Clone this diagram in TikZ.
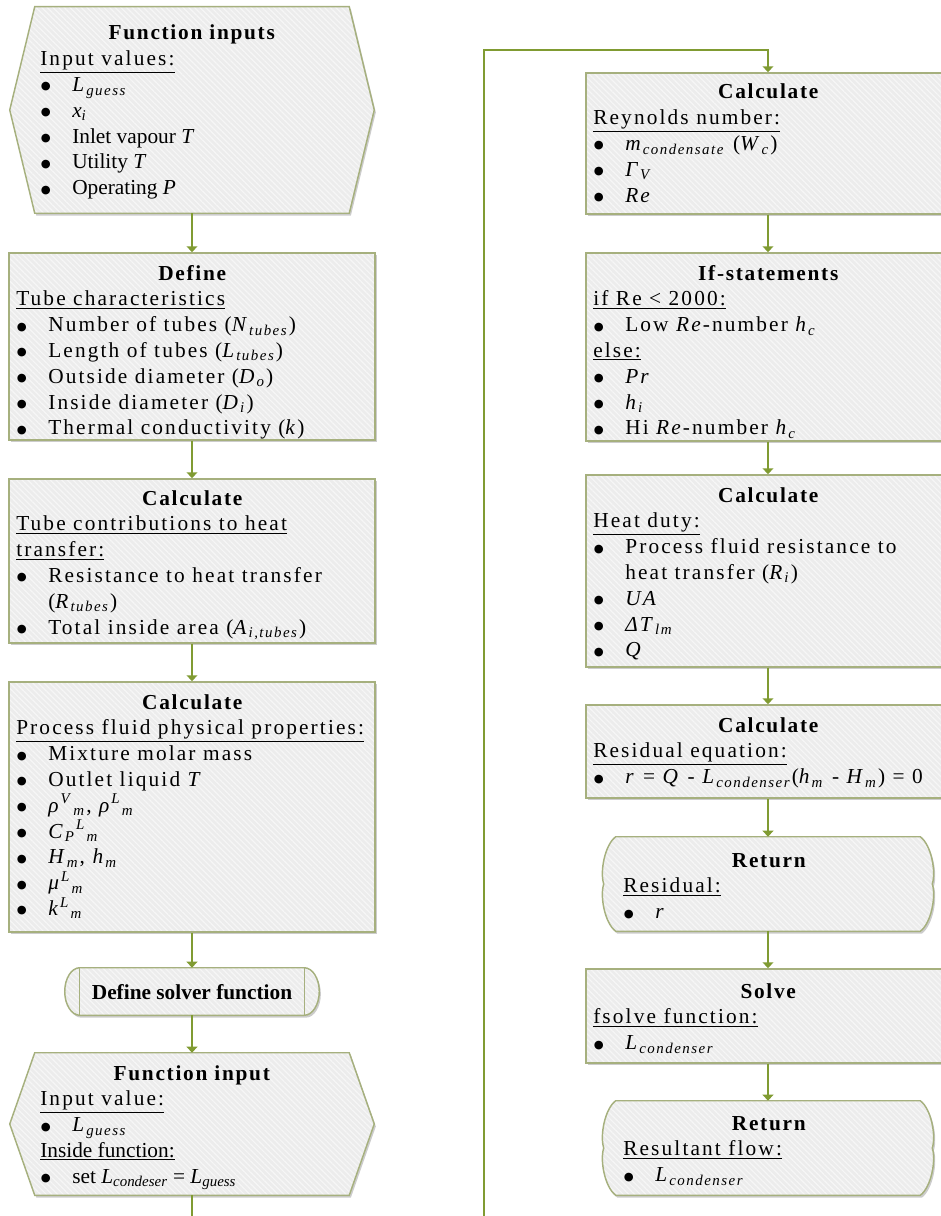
\documentclass[tikz,border=0pt]{standalone}
\usepackage{fontspec}
\setmainfont{Liberation Serif}
\newfontfamily\spfont[LetterSpace=10]{Liberation Serif}
\newfontfamily\tfont[LetterSpace=8]{Liberation Serif}
\newfontfamily\bulfont{DejaVu Sans}
\usetikzlibrary{arrows.meta,calc,fit,shadows,patterns.meta}

\definecolor{boxgray}{RGB}{236,236,236}
\definecolor{stripe}{RGB}{246,246,246}
\definecolor{edge}{RGB}{166,176,126}
\definecolor{flowcol}{RGB}{128,155,50}

\newdimen\px \px=0.75pt
% italic symbol with italic subscript
\newcommand\vr[2]{\textit{#1}\textsubscript{\textit{#2}}}
\newcommand\upx[1]{\textsuperscript{\textit{#1}}}
\newcommand\dnx[1]{\textsubscript{\textit{#1}}}
% bullet line and its hanging continuation
\newcommand\bulletmark{{\bulfont\fontsize{8.5}{8.5}\selectfont\raisebox{1.2pt}{●}}}
\newcommand\bl[1]{\par\noindent\makebox[32\px][l]{\hspace*{0.5\px}\bulletmark}\mbox{#1}\par}
\newcommand\cont[1]{\par\noindent\hspace*{32\px}\mbox{#1}\par}
\newcommand\ttl[1]{{\centering\tfont\bfseries #1\par}}

\begin{document}
\begin{tikzpicture}[x=0.75pt,y=-0.75pt,
  boxstyle/.style={drop shadow={shadow xshift=1.2pt,shadow yshift=-1.8pt,fill=black,opacity=0.2},
    preaction={fill=boxgray},
    pattern={Lines[angle=-45,distance=3pt,line width=0.9pt]}, pattern color=stripe,
    draw=edge, line width=1.1pt},
  rectbox/.style={boxstyle, rectangle, inner sep=0pt},
  frame/.style={rectangle, inner sep=0pt},
  edgeline/.style={draw=edge, line width=1.1pt},
  flow/.style={draw=flowcol, line width=1.5pt, -{Triangle[width=8pt,length=4.5pt]}},
  txt/.style={inner sep=0pt, anchor=base west, font=\fontsize{16}{19.35}\selectfont},
]
\useasboundingbox (0,0) rectangle (940,1216);

% ---------- left column ----------
\node[frame, fit={(10,7) (374,213)}] (b1) {};
\path[boxstyle] (b1.west) -- ($(b1.north west)+(25,0)$) -- ($(b1.north east)+(-25,0)$)
  -- (b1.east) -- ($(b1.south east)+(-25,0)$) -- ($(b1.south west)+(25,0)$) -- cycle;

\node[rectbox, fit={(9,253) (375,440)}] (b2) {};
\node[rectbox, fit={(9,479) (375,643)}] (b3) {};
\node[rectbox, fit={(9,682) (375,932)}] (b4) {};

\node[frame, fit={(65,968) (319,1015)}] (ds) {};
\path[boxstyle] ($(ds.north west)+(15,0)$) -- ($(ds.north east)+(-15,0)$)
  .. controls ($(ds.north east)+(-6.7,0)$) and ($(ds.east)+(0,-13)$) .. (ds.east)
  .. controls ($(ds.east)+(0,13)$) and ($(ds.south east)+(-6.7,0)$) .. ($(ds.south east)+(-15,0)$)
  -- ($(ds.south west)+(15,0)$)
  .. controls ($(ds.south west)+(6.7,0)$) and ($(ds.west)+(0,13)$) .. (ds.west)
  .. controls ($(ds.west)+(0,-13)$) and ($(ds.north west)+(6.7,0)$) .. cycle;
\draw[edgeline] ($(ds.north west)+(15,0)$) -- ($(ds.south west)+(15,0)$);
\draw[edgeline] ($(ds.north east)+(-15,0)$) -- ($(ds.south east)+(-15,0)$);

\node[frame, fit={(10,1053) (374,1195)}] (fi) {};
\path[boxstyle] (fi.west) -- ($(fi.north west)+(25,0)$) -- ($(fi.north east)+(-25,0)$)
  -- (fi.east) -- ($(fi.south east)+(-25,0)$) -- ($(fi.south west)+(25,0)$) -- cycle;

% ---------- right column ----------
\node[rectbox, fit={(586,73) (950,214)}] (r1) {};
\node[rectbox, fit={(586,253) (950,441)}] (r2) {};
\node[rectbox, fit={(586,475) (950,667)}] (r3) {};
\node[rectbox, fit={(586,705) (950,798)}] (r4) {};

\newcommand\retoutline[1]{%
  \path[boxstyle] ($(#1.north west)+(15,0)$) -- ($(#1.north east)+(-15,0)$)
    .. controls ($(#1.north east)+(-4,8)$) and ($(#1.east)+(1,-12)$) .. ($(#1.east)+(-3,0)$)
    .. controls ($(#1.east)+(1,12)$) and ($(#1.south east)+(-4,-8)$) .. ($(#1.south east)+(-15,0)$)
    -- ($(#1.south west)+(15,0)$)
    .. controls ($(#1.south west)+(4,-8)$) and ($(#1.west)+(-1,12)$) .. ($(#1.west)+(3,0)$)
    .. controls ($(#1.west)+(-1,-12)$) and ($(#1.north west)+(4,8)$) .. cycle;}

\node[frame, fit={(601,837) (935,931)}] (ret1) {};
\retoutline{ret1}
\node[rectbox, fit={(586,969) (950,1063)}] (sol) {};
\node[frame, fit={(601,1101) (935,1195)}] (ret2) {};
\retoutline{ret2}

% ---------- texts ----------
\node[txt] (t1) at (40,40) {\parbox[t]{303\px}{\spfont\raggedright
  \ttl{Function inputs}
  \underline{Input values:}\par
  \bl{\vr{L}{guess}}
  \bl{\rmfamily\vr{x}{i}}
  \bl{\rmfamily Inlet vapour \textit{T}}
  \bl{\rmfamily Utility \textit{T}}
  \bl{\rmfamily Operating \textit{P}}}};

\node[txt] (t2) at (16,280) {\parbox[t]{352\px}{\spfont\raggedright
  \ttl{Define}
  \underline{Tube characteristics}\par
  \bl{Number of tubes (\vr{N}{tubes})}
  \bl{Length of tubes (\vr{L}{tubes})}
  \bl{Outside diameter (\vr{D}{o})}
  \bl{Inside diameter (\vr{D}{i})}
  \bl{Thermal conductivity (\textit{k})}}};

\node[txt] (t3) at (16,505) {\parbox[t]{352\px}{\spfont\raggedright
  \ttl{Calculate}
  \underline{Tube contributions to heat}\par
  \underline{transfer:}\par
  \bl{Resistance to heat transfer}
  \cont{(\vr{R}{tubes})}
  \bl{Total inside area (\vr{A}{i,tubes})}}};

\node[txt] (t4) at (16,709) {\parbox[t]{352\px}{\spfont\raggedright
  \ttl{Calculate}
  \underline{Process fluid physical properties:}\par
  \bl{Mixture molar mass}
  \bl{Outlet liquid \textit{T}}
  \bl{\textit{ρ}\upx{V}\dnx{m}, \textit{ρ}\upx{L}\dnx{m}}
  \bl{\textit{C}\dnx{P}\upx{L}\dnx{m}}
  \bl{\vr{H}{m}, \vr{h}{m}}
  \bl{\textit{μ}\upx{L}\dnx{m}}
  \bl{\textit{k}\upx{L}\dnx{m}}}};

\node[txt, anchor=base] (tds) at (192,999) {\bfseries Define solver function};

\node[txt] (tfi) at (40,1080) {\parbox[t]{303\px}{\spfont\raggedright
  \ttl{Function input}
  \underline{Input value:}\par
  \bl{\vr{L}{guess}}
  {\rmfamily\underline{Inside function:}\par}
  \bl{\rmfamily set \vr{L}{condeser} = \vr{L}{guess}}}};

\node[txt] (tr1) at (593,99) {\parbox[t]{350\px}{\spfont\raggedright
  \ttl{Calculate}
  \underline{Reynolds number:}\par
  \bl{\vr{m}{condensate} (\vr{W}{c})}
  \bl{\vr{Γ}{V}}
  \bl{\textit{Re}}}};

\node[txt] (tr2) at (593,280) {\parbox[t]{350\px}{\spfont\raggedright
  \ttl{If-statements}
  \underline{if Re < 2000:}\par
  \bl{Low \textit{Re}-number \vr{h}{c}}
  \underline{else:}\par
  \bl{\textit{Pr}}
  \bl{\vr{h}{i}}
  \bl{Hi \textit{Re}-number \vr{h}{c}}}};

\node[txt] (tr3) at (593,502) {\parbox[t]{350\px}{\spfont\raggedright
  \ttl{Calculate}
  \underline{Heat duty:}\par
  \bl{Process fluid resistance to}
  \cont{heat transfer (\vr{R}{i})}
  \bl{\textit{UA}}
  \bl{\vr{ΔT}{lm}}
  \bl{\textit{Q}}}};

\node[txt] (tr4) at (593,732) {\parbox[t]{350\px}{\spfont\raggedright
  \ttl{Calculate}
  \underline{Residual equation:}\par
  \bl{\textit{r} = \textit{Q} - \vr{L}{condenser}(\vr{h}{m} - \vr{H}{m}) = 0}}};

\node[txt] (tret1) at (623,867) {\parbox[t]{291\px}{\spfont\raggedright
  \ttl{Return}
  \underline{Residual:}\par
  \bl{\textit{r}}}};

\node[txt] (tsol) at (593,998) {\parbox[t]{350\px}{\spfont\raggedright
  \ttl{Solve}
  \underline{fsolve function:}\par
  \bl{\vr{L}{condenser}}}};

\node[txt] (tret2) at (623,1130) {\parbox[t]{291\px}{\spfont\raggedright
  \ttl{Return}
  \underline{Resultant flow:}\par
  \bl{\vr{L}{condenser}}}};

% ---------- connectors ----------
\draw[flow] (b1.south) -- (b2.north);
\draw[flow] (b2.south) -- (b3.north);
\draw[flow] (b3.south) -- (b4.north);
\draw[flow] (b4.south) -- (ds.north);
\draw[flow] (ds.south) -- (fi.north);

\coordinate (lowturn) at (484,1240);
\coordinate (topturn) at (484,50);
\draw[flow] (fi.south) |- (lowturn) -- (topturn) -| (r1.north);

\draw[flow] (r1.south) -- (r2.north);
\draw[flow] (r2.south) -- (r3.north);
\draw[flow] (r3.south) -- (r4.north);
\draw[flow] (r4.south) -- (ret1.north);
\draw[flow] (ret1.south) -- (sol.north);
\draw[flow] (sol.south) -- (ret2.north);
\end{tikzpicture}
\end{document}
